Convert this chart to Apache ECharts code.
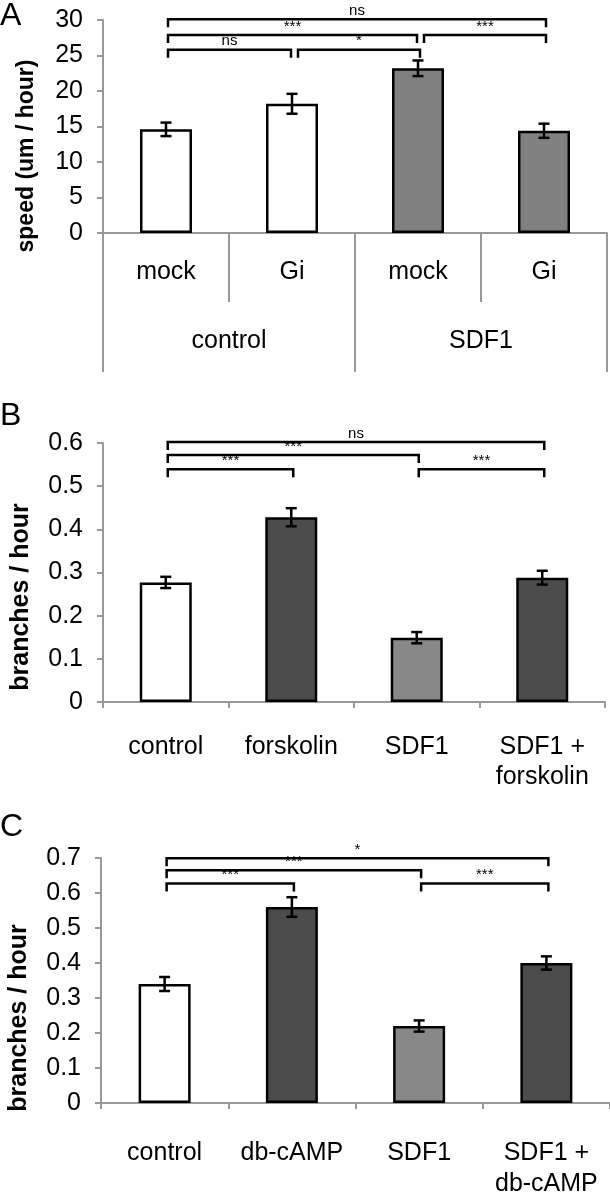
<!DOCTYPE html>
<html><head><meta charset="utf-8">
<script src="https://cdn.jsdelivr.net/npm/echarts@6/dist/echarts.min.js"></script>
<style>html,body{margin:0;padding:0;background:#fff}#c{width:610px;height:1200px}</style>
</head><body><div id="c"></div>
<script>
// ---- Panel A ----
const catsA = ['mock', 'Gi', 'mock', 'Gi'];
const groupsA = ['control', 'SDF1'];
const valsA = [14.6, 18.2, 23.2, 14.4];
const errA = [0.95, 1.4, 1.1, 1.0];
const colorsA = ['#ffffff', '#ffffff', '#808080', '#808080'];
const bracketsA = [[0, 3, 30.1, 'ns'], [0, 2, 27.9, '***'], [2, 3, 27.9, '***'], [0, 1, 25.8, 'ns'], [1, 2, 25.8, '*']];
const nameA = 'speed (um / hour)';

// ---- Panel B ----
const catsB = ['control', 'forskolin', 'SDF1', 'SDF1 +\nforskolin'];
const valsB = [0.277, 0.428, 0.149, 0.288];
const errB = [0.013, 0.021, 0.013, 0.016];
const colorsB = ['#ffffff', '#4c4c4c', '#888888', '#4c4c4c'];
const bracketsB = [[0, 3, 0.6025, 'ns'], [0, 2, 0.572, '***'], [0, 1, 0.539, '***'], [2, 3, 0.539, '***']];
const nameB = 'branches / hour';

// ---- Panel C ----
const catsC = ['control', 'db-cAMP', 'SDF1', 'SDF1 +\ndb-cAMP'];
const valsC = [0.34, 0.56, 0.22, 0.40];
const errC = [0.02, 0.028, 0.016, 0.019];
const colorsC = ['#ffffff', '#4c4c4c', '#888888', '#4c4c4c'];
const bracketsC = [[0, 3, 0.699, '*'], [0, 2, 0.665, '***'], [0, 1, 0.627, '***'], [2, 3, 0.627, '***']];
const nameC = 'branches / hour';

const FONT = '"Liberation Sans", Arial, Helvetica, sans-serif';
const AX = '#999999';

function yAxisCfg(grid, min, max, interval, fmt) {
  return {
    type: 'value', gridIndex: grid, min: min, max: max, interval: interval,
    axisLine: { show: true, lineStyle: { color: AX, width: 2 } },
    axisTick: { show: true, length: 6, lineStyle: { color: AX, width: 2 } },
    splitLine: { show: false },
    axisLabel: { color: '#000', fontSize: 25, fontFamily: FONT, margin: 20, formatter: fmt }
  };
}

function barSeries(idx, vals, colors) {
  return {
    type: 'bar', xAxisIndex: idx, yAxisIndex: idx, barWidth: 52,
    data: vals.map((v, i) => ({ value: v, itemStyle: { color: colors[i], borderColor: '#000', borderWidth: 2.5 } })),
    z: 2
  };
}

function errSeries(idx, vals, errs) {
  return {
    type: 'custom', xAxisIndex: idx, yAxisIndex: idx, z: 5, clip: false,
    data: vals.map((v, i) => [i, v - errs[i], v + errs[i]]),
    renderItem: function (params, api) {
      const lo = api.coord([api.value(0), api.value(1)]);
      const hi = api.coord([api.value(0), api.value(2)]);
      const x = lo[0], w = 5.5;
      const st = { stroke: '#000', lineWidth: 2.5 };
      return { type: 'group', children: [
        { type: 'line', shape: { x1: x, y1: lo[1], x2: x, y2: hi[1] }, style: st },
        { type: 'line', shape: { x1: x - w, y1: lo[1], x2: x + w, y2: lo[1] }, style: st },
        { type: 'line', shape: { x1: x - w, y1: hi[1], x2: x + w, y2: hi[1] }, style: st }
      ] };
    }
  };
}

function bracketSeries(idx, brs) {
  return {
    type: 'custom', xAxisIndex: idx, yAxisIndex: idx, z: 6, clip: false,
    data: brs.map(b => [b[0], b[1], b[2]]),
    renderItem: function (params, api) {
      const b = brs[params.dataIndex];
      const sharedStart = brs.some(o => o !== b && o[2] === b[2] && o[1] === b[0]);
      const sharedEnd = brs.some(o => o !== b && o[2] === b[2] && o[0] === b[1]);
      const p1 = api.coord([b[0], b[2]]);
      const p2 = api.coord([b[1], b[2]]);
      const x1 = p1[0] + (sharedStart ? 6 : 2);
      const x2 = p2[0] + (sharedEnd ? -1 : 2);
      const y = p1[1], d = 8;
      const st = { stroke: '#000', lineWidth: 2.5, fill: null };
      return { type: 'group', children: [
        { type: 'polyline', shape: { points: [[x1, y + d], [x1, y], [x2, y], [x2, y + d]] }, style: st },
        { type: 'text', x: (x1 + x2) / 2, y: y - 1,
          style: { text: b[3], fill: '#000', font: '15px ' + FONT, textAlign: 'center', textVerticalAlign: 'bottom' } }
      ] };
    }
  };
}

function panelLetter(txt, top) {
  return { type: 'text', left: 0, top: top, style: { text: txt, fill: '#000', font: '32px ' + FONT } };
}
function yName(txt, x, y, size) {
  return { type: 'text', x: x, y: y, rotation: Math.PI / 2,
    style: { text: txt, fill: '#000', font: 'bold ' + size + 'px ' + FONT, textAlign: 'center', textVerticalAlign: 'middle' } };
}

const chart = echarts.init(document.getElementById('c'), null, { renderer: 'canvas' });
chart.setOption({
  backgroundColor: '#fff',
  animation: false,
  grid: [
    { left: 103, right: 3, top: 20, bottom: 967 },
    { left: 103, right: 5, top: 443, bottom: 498 },
    { left: 101, right: 0, top: 858, bottom: 81 }
  ],
  xAxis: [
    { type: 'category', gridIndex: 0, data: catsA,
      axisLine: { lineStyle: { color: AX, width: 2 } },
      axisTick: { show: true, length: 69, lineStyle: { color: AX, width: 2 } },
      axisLabel: { color: '#000', fontSize: 25, fontFamily: FONT, margin: 27 } },
    { type: 'category', gridIndex: 1, data: catsB,
      axisLine: { lineStyle: { color: AX, width: 2 } },
      axisTick: { show: true, length: 6, lineStyle: { color: AX, width: 2 } },
      axisLabel: { color: '#000', fontSize: 25, fontFamily: FONT, margin: 30, lineHeight: 30, interval: 0 } },
    { type: 'category', gridIndex: 2, data: catsC,
      axisLine: { lineStyle: { color: AX, width: 2 } },
      axisTick: { show: true, length: 6, lineStyle: { color: AX, width: 2 } },
      axisLabel: { color: '#000', fontSize: 25, fontFamily: FONT, margin: 35, lineHeight: 31, interval: 0 } },
    { type: 'category', gridIndex: 0, data: groupsA, position: 'bottom',
      axisLine: { show: false },
      axisTick: { show: true, length: 139, lineStyle: { color: AX, width: 2 } },
      axisLabel: { color: '#000', fontSize: 25, fontFamily: FONT, margin: 96 } }
  ],
  yAxis: [
    yAxisCfg(0, 0, 30, 5),
    yAxisCfg(1, 0, 0.6, 0.1, v => v === 0 ? '0' : v.toFixed(1)),
    yAxisCfg(2, 0, 0.7, 0.1, v => v === 0 ? '0' : v.toFixed(1))
  ],
  series: [
    barSeries(0, valsA, colorsA), errSeries(0, valsA, errA), bracketSeries(0, bracketsA),
    barSeries(1, valsB, colorsB), errSeries(1, valsB, errB), bracketSeries(1, bracketsB),
    barSeries(2, valsC, colorsC), errSeries(2, valsC, errC), bracketSeries(2, bracketsC)
  ],
  graphic: [
    panelLetter('A', 0), panelLetter('B', 400), panelLetter('C', 811),
    yName(nameA, 27, 156, 23), yName(nameB, 21, 597, 25), yName(nameC, 19, 1018, 25)
  ]
});
</script></body></html>
